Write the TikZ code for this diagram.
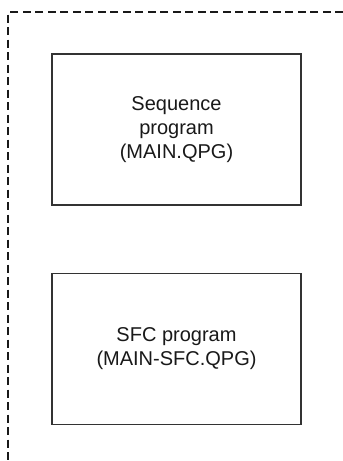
\documentclass[tikz,border=0pt]{standalone}
\usepackage{fontspec}
\setmainfont{Liberation Sans}
\usetikzlibrary{positioning}

\begin{document}
\begin{tikzpicture}[x=1pt,y=-1pt]

\tikzset{
frame/.style={draw=black!90,line width=1.1pt,dash pattern=on 8pt off 4.5pt},
progbox/.style={draw=black!80,line width=1.5pt,fill=white,minimum width=249pt,minimum height=151pt,align=center,inner sep=0pt,font=\fontsize{20}{24}\selectfont,text=black!90}
}

\useasboundingbox (0,0) rectangle (343,461);

% Frame
\coordinate (frametr) at (343,12);
\coordinate (frametl) at (8,12);
\coordinate (framebl) at (8,461);
\draw[frame] (frametr) -- (frametl) -- (framebl);

% Programs
\node[progbox] (seqprog) at (176.5,129.5) {Sequence\\program\\(MAIN.QPG)};
\node[progbox] (sfcprog) at (176.5,349) {SFC program\\(MAIN-SFC.QPG)};

\end{tikzpicture}
\end{document}
